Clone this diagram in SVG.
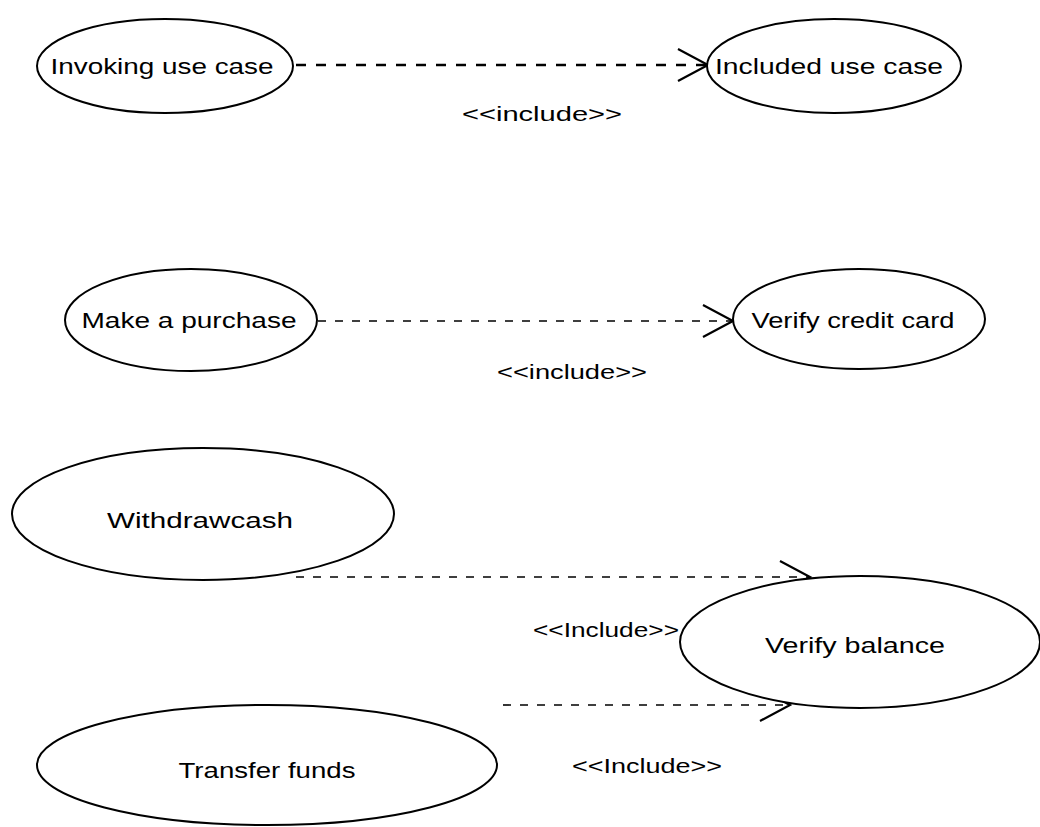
<svg xmlns="http://www.w3.org/2000/svg" width="1040" height="827" viewBox="0 0 1040 827">
  <style>
    .uc { fill: #ffffff; stroke: #000000; stroke-width: 2; }
    .lbl { font-family: "Liberation Sans", Arial, sans-serif; font-size: 22px; fill: #000000; text-anchor: middle; dominant-baseline: central; }
    .stereo { font-family: "Liberation Sans", Arial, sans-serif; font-size: 20px; fill: #000000; text-anchor: middle; dominant-baseline: central; }
    .dep { fill: none; stroke: #000000; stroke-width: 1.6; stroke-dasharray: 8 9; }
    .dep.heavy { stroke-width: 2.6; stroke-dasharray: 10 10; }
  </style>
  <defs>
    <marker id="open" markerUnits="userSpaceOnUse" markerWidth="34" markerHeight="36" refX="31" refY="17" orient="auto">
      <path d="M1,1 L31,17 L1,33" fill="none" stroke="#000000" stroke-width="2.2"/>
    </marker>
  </defs>
  <rect x="0" y="0" width="1040" height="827" fill="#ffffff"/>

  <!-- include dependencies -->
  <g id="connectors">
    <line class="dep heavy" x1="296" y1="65" x2="708" y2="65" marker-end="url(#open)"/>
    <line class="dep" x1="318" y1="321" x2="733" y2="321" marker-end="url(#open)"/>
    <line class="dep" x1="296" y1="577" x2="810" y2="577" marker-end="url(#open)"/>
    <line class="dep" x1="503" y1="705" x2="790" y2="705" marker-end="url(#open)"/>
    <text class="stereo" x="542" y="114" textLength="160" lengthAdjust="spacingAndGlyphs">&lt;&lt;include&gt;&gt;</text>
    <text class="stereo" x="572" y="372" textLength="150" lengthAdjust="spacingAndGlyphs">&lt;&lt;include&gt;&gt;</text>
    <text class="stereo" x="606" y="630" textLength="146" lengthAdjust="spacingAndGlyphs">&lt;&lt;Include&gt;&gt;</text>
    <text class="stereo" x="647" y="766" textLength="150" lengthAdjust="spacingAndGlyphs">&lt;&lt;Include&gt;&gt;</text>
  </g>

  <g id="invoking-use-case">
    <ellipse class="uc" cx="165" cy="66" rx="128" ry="47"/>
    <text class="lbl" x="162" y="66" textLength="223" lengthAdjust="spacingAndGlyphs">Invoking use case</text>
  </g>
  <g id="included-use-case">
    <ellipse class="uc" cx="834" cy="66" rx="127" ry="47"/>
    <text class="lbl" x="829" y="66" textLength="228" lengthAdjust="spacingAndGlyphs">Included use case</text>
  </g>
  <g id="make-a-purchase">
    <ellipse class="uc" cx="191" cy="320" rx="126" ry="51"/>
    <text class="lbl" x="189" y="320" textLength="215" lengthAdjust="spacingAndGlyphs">Make a purchase</text>
  </g>
  <g id="verify-credit-card">
    <ellipse class="uc" cx="859" cy="319" rx="126" ry="50"/>
    <text class="lbl" x="853" y="320" textLength="203" lengthAdjust="spacingAndGlyphs">Verify credit card</text>
  </g>
  <g id="withdraw-cash">
    <ellipse class="uc" cx="203" cy="514" rx="191" ry="66"/>
    <text class="lbl" x="200" y="520" textLength="186" lengthAdjust="spacingAndGlyphs">Withdrawcash</text>
  </g>
  <g id="verify-balance">
    <ellipse class="uc" cx="860" cy="642" rx="180" ry="66"/>
    <text class="lbl" x="855" y="645" textLength="180" lengthAdjust="spacingAndGlyphs">Verify balance</text>
  </g>
  <g id="transfer-funds">
    <ellipse class="uc" cx="267" cy="765" rx="230" ry="60"/>
    <text class="lbl" x="267" y="770" textLength="177" lengthAdjust="spacingAndGlyphs">Transfer funds</text>
  </g>
</svg>
